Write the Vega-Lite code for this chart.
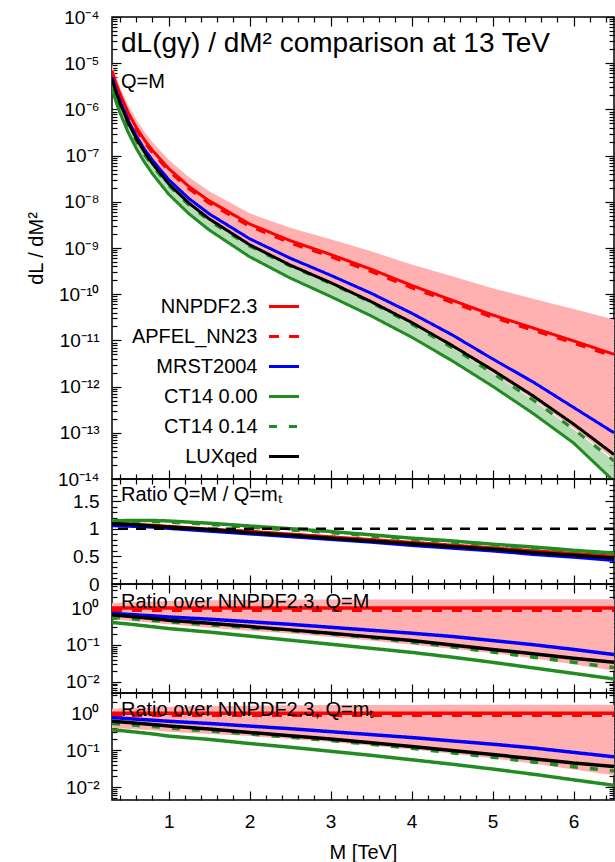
{
"$schema": "https://vega.github.io/schema/vega-lite/v6.json",
"background": "white",
"padding": {"left": 25, "top": 7, "right": 2, "bottom": 0},
"spacing": 0,
"bounds": "flush",
"config": {
  "view": {"stroke": "black", "strokeWidth": 1.5},
  "font": "Liberation Sans",
  "axis": {"domain": false, "grid": false, "tickColor": "black", "tickWidth": 1.2, "labelFont": "Liberation Sans", "labelFontSize": 19, "labelColor": "black", "labelOverlap": false, "labelFlush": false, "titleFont": "Liberation Sans", "titleFontWeight": "normal", "titleColor": "black", "titleFontSize": 20},
  "title": {"font": "Liberation Sans", "fontWeight": "normal", "color": "black", "anchor": "start", "frame": "group", "subtitleFont": "Liberation Sans", "subtitleColor": "black"}
},
"resolve": {"scale": {"color": "independent", "strokeDash": "independent"}},
"datasets": {
"main": [
{"M":0.3,"s":"NNPDF2.3","v":6.92e-6},{"M":0.35,"s":"NNPDF2.3","v":3.63e-6},{"M":0.4,"s":"NNPDF2.3","v":2.14e-6},{"M":0.5,"s":"NNPDF2.3","v":8.51e-7},{"M":0.6,"s":"NNPDF2.3","v":4.07e-7},{"M":0.7,"s":"NNPDF2.3","v":2.19e-7},{"M":0.8,"s":"NNPDF2.3","v":1.29e-7},{"M":1.0,"s":"NNPDF2.3","v":5.25e-8},{"M":1.25,"s":"NNPDF2.3","v":2.14e-8},{"M":1.5,"s":"NNPDF2.3","v":1.05e-8},{"M":2.0,"s":"NNPDF2.3","v":3.31e-9},{"M":2.5,"s":"NNPDF2.3","v":1.445e-9},{"M":3.0,"s":"NNPDF2.3","v":7.24e-10},{"M":3.5,"s":"NNPDF2.3","v":3.47e-10},{"M":4.0,"s":"NNPDF2.3","v":1.55e-10},{"M":4.5,"s":"NNPDF2.3","v":7.41e-11},{"M":5.0,"s":"NNPDF2.3","v":3.55e-11},{"M":5.5,"s":"NNPDF2.3","v":1.86e-11},{"M":6.0,"s":"NNPDF2.3","v":9.77e-12},{"M":6.5,"s":"NNPDF2.3","v":5.01e-12},
{"M":0.3,"s":"APFEL_NN23","v":6.17e-6},{"M":0.35,"s":"APFEL_NN23","v":3.24e-6},{"M":0.4,"s":"APFEL_NN23","v":1.905e-6},{"M":0.5,"s":"APFEL_NN23","v":7.59e-7},{"M":0.6,"s":"APFEL_NN23","v":3.63e-7},{"M":0.7,"s":"APFEL_NN23","v":1.95e-7},{"M":0.8,"s":"APFEL_NN23","v":1.148e-7},{"M":1.0,"s":"APFEL_NN23","v":4.68e-8},{"M":1.25,"s":"APFEL_NN23","v":1.905e-8},{"M":1.5,"s":"APFEL_NN23","v":9.33e-9},{"M":2.0,"s":"APFEL_NN23","v":2.95e-9},{"M":2.5,"s":"APFEL_NN23","v":1.29e-9},{"M":3.0,"s":"APFEL_NN23","v":6.46e-10},{"M":3.5,"s":"APFEL_NN23","v":3.09e-10},{"M":4.0,"s":"APFEL_NN23","v":1.38e-10},{"M":4.5,"s":"APFEL_NN23","v":6.61e-11},{"M":5.0,"s":"APFEL_NN23","v":3.16e-11},{"M":5.5,"s":"APFEL_NN23","v":1.66e-11},{"M":6.0,"s":"APFEL_NN23","v":8.71e-12},{"M":6.5,"s":"APFEL_NN23","v":4.47e-12},
{"M":0.3,"s":"MRST2004","v":5.01e-6},{"M":0.35,"s":"MRST2004","v":2.57e-6},{"M":0.4,"s":"MRST2004","v":1.50e-6},{"M":0.5,"s":"MRST2004","v":5.75e-7},{"M":0.6,"s":"MRST2004","v":2.66e-7},{"M":0.7,"s":"MRST2004","v":1.38e-7},{"M":0.8,"s":"MRST2004","v":7.94e-8},{"M":1.0,"s":"MRST2004","v":3.02e-8},{"M":1.25,"s":"MRST2004","v":1.175e-8},{"M":1.5,"s":"MRST2004","v":5.50e-9},{"M":2.0,"s":"MRST2004","v":1.585e-9},{"M":2.5,"s":"MRST2004","v":6.03e-10},{"M":3.0,"s":"MRST2004","v":2.57e-10},{"M":3.5,"s":"MRST2004","v":1.05e-10},{"M":4.0,"s":"MRST2004","v":3.89e-11},{"M":4.5,"s":"MRST2004","v":1.32e-11},{"M":5.0,"s":"MRST2004","v":3.98e-12},{"M":5.5,"s":"MRST2004","v":1.26e-12},{"M":6.0,"s":"MRST2004","v":3.55e-13},{"M":6.5,"s":"MRST2004","v":1.0e-13},
{"M":0.3,"s":"CT14 0.00","v":2.82e-6},{"M":0.35,"s":"CT14 0.00","v":1.445e-6},{"M":0.4,"s":"CT14 0.00","v":8.32e-7},{"M":0.5,"s":"CT14 0.00","v":3.16e-7},{"M":0.6,"s":"CT14 0.00","v":1.43e-7},{"M":0.7,"s":"CT14 0.00","v":7.24e-8},{"M":0.8,"s":"CT14 0.00","v":4.03e-8},{"M":1.0,"s":"CT14 0.00","v":1.46e-8},{"M":1.25,"s":"CT14 0.00","v":5.50e-9},{"M":1.5,"s":"CT14 0.00","v":2.455e-9},{"M":2.0,"s":"CT14 0.00","v":6.46e-10},{"M":2.5,"s":"CT14 0.00","v":2.24e-10},{"M":3.0,"s":"CT14 0.00","v":8.91e-11},{"M":3.5,"s":"CT14 0.00","v":3.39e-11},{"M":4.0,"s":"CT14 0.00","v":1.175e-11},{"M":4.5,"s":"CT14 0.00","v":3.63e-12},{"M":5.0,"s":"CT14 0.00","v":1.02e-12},{"M":5.5,"s":"CT14 0.00","v":2.63e-13},{"M":6.0,"s":"CT14 0.00","v":6.03e-14},{"M":6.5,"s":"CT14 0.00","v":8.91e-15},
{"M":0.3,"s":"CT14 0.14","v":3.98e-6},{"M":0.35,"s":"CT14 0.14","v":2.04e-6},{"M":0.4,"s":"CT14 0.14","v":1.175e-6},{"M":0.5,"s":"CT14 0.14","v":4.47e-7},{"M":0.6,"s":"CT14 0.14","v":2.04e-7},{"M":0.7,"s":"CT14 0.14","v":1.05e-7},{"M":0.8,"s":"CT14 0.14","v":5.96e-8},{"M":1.0,"s":"CT14 0.14","v":2.24e-8},{"M":1.25,"s":"CT14 0.14","v":8.51e-9},{"M":1.5,"s":"CT14 0.14","v":3.89e-9},{"M":2.0,"s":"CT14 0.14","v":1.096e-9},{"M":2.5,"s":"CT14 0.14","v":4.07e-10},{"M":3.0,"s":"CT14 0.14","v":1.70e-10},{"M":3.5,"s":"CT14 0.14","v":6.61e-11},{"M":4.0,"s":"CT14 0.14","v":2.24e-11},{"M":4.5,"s":"CT14 0.14","v":6.92e-12},{"M":5.0,"s":"CT14 0.14","v":1.95e-12},{"M":5.5,"s":"CT14 0.14","v":5.13e-13},{"M":6.0,"s":"CT14 0.14","v":1.20e-13},{"M":6.5,"s":"CT14 0.14","v":2.45e-14},
{"M":0.3,"s":"LUXqed","v":4.57e-6},{"M":0.35,"s":"LUXqed","v":2.34e-6},{"M":0.4,"s":"LUXqed","v":1.35e-6},{"M":0.5,"s":"LUXqed","v":5.13e-7},{"M":0.6,"s":"LUXqed","v":2.34e-7},{"M":0.7,"s":"LUXqed","v":1.20e-7},{"M":0.8,"s":"LUXqed","v":6.68e-8},{"M":1.0,"s":"LUXqed","v":2.45e-8},{"M":1.25,"s":"LUXqed","v":9.33e-9},{"M":1.5,"s":"LUXqed","v":4.27e-9},{"M":2.0,"s":"LUXqed","v":1.175e-9},{"M":2.5,"s":"LUXqed","v":4.27e-10},{"M":3.0,"s":"LUXqed","v":1.78e-10},{"M":3.5,"s":"LUXqed","v":6.92e-11},{"M":4.0,"s":"LUXqed","v":2.455e-11},{"M":4.5,"s":"LUXqed","v":7.76e-12},{"M":5.0,"s":"LUXqed","v":2.29e-12},{"M":5.5,"s":"LUXqed","v":6.31e-13},{"M":6.0,"s":"LUXqed","v":1.55e-13},{"M":6.5,"s":"LUXqed","v":3.39e-14}
],
"mainband": [
{"M":0.3,"lo":3.98e-6,"hi":9.55e-6,"glo":2.82e-6,"ghi":3.98e-6},
{"M":0.35,"lo":2.04e-6,"hi":5.07e-6,"glo":1.445e-6,"ghi":2.04e-6},
{"M":0.4,"lo":1.175e-6,"hi":3.02e-6,"glo":8.32e-7,"ghi":1.175e-6},
{"M":0.5,"lo":4.47e-7,"hi":1.23e-6,"glo":3.16e-7,"ghi":4.47e-7},
{"M":0.6,"lo":2.04e-7,"hi":6.03e-7,"glo":1.43e-7,"ghi":2.04e-7},
{"M":0.7,"lo":1.05e-7,"hi":3.27e-7,"glo":7.24e-8,"ghi":1.05e-7},
{"M":0.8,"lo":5.89e-8,"hi":1.95e-7,"glo":4.03e-8,"ghi":5.96e-8},
{"M":1.0,"lo":2.19e-8,"hi":8.13e-8,"glo":1.46e-8,"ghi":2.24e-8},
{"M":1.25,"lo":8.32e-9,"hi":3.39e-8,"glo":5.50e-9,"ghi":8.51e-9},
{"M":1.5,"lo":3.80e-9,"hi":1.70e-8,"glo":2.455e-9,"ghi":3.89e-9},
{"M":2.0,"lo":1.06e-9,"hi":5.62e-9,"glo":6.46e-10,"ghi":1.096e-9},
{"M":2.5,"lo":3.89e-10,"hi":2.75e-9,"glo":2.24e-10,"ghi":4.07e-10},
{"M":3.0,"lo":1.62e-10,"hi":1.55e-9,"glo":8.91e-11,"ghi":1.70e-10},
{"M":3.5,"lo":6.31e-11,"hi":8.51e-10,"glo":3.39e-11,"ghi":6.61e-11},
{"M":4.0,"lo":2.19e-11,"hi":4.37e-10,"glo":1.175e-11,"ghi":2.24e-11},
{"M":4.5,"lo":6.84e-12,"hi":2.455e-10,"glo":3.63e-12,"ghi":6.92e-12},
{"M":5.0,"lo":1.97e-12,"hi":1.35e-10,"glo":1.02e-12,"ghi":1.95e-12},
{"M":5.5,"lo":5.31e-13,"hi":7.94e-11,"glo":2.63e-13,"ghi":5.13e-13},
{"M":6.0,"lo":1.27e-13,"hi":4.79e-11,"glo":6.03e-14,"ghi":1.20e-13},
{"M":6.5,"lo":2.69e-14,"hi":2.82e-11,"glo":8.91e-15,"ghi":2.45e-14}
],
"p2": [
{"M":0.3,"s":"NNPDF2.3","v":1.09},{"M":0.5,"s":"NNPDF2.3","v":1.08},{"M":0.8,"s":"NNPDF2.3","v":1.06},{"M":1,"s":"NNPDF2.3","v":1.04},{"M":1.5,"s":"NNPDF2.3","v":0.99},{"M":2,"s":"NNPDF2.3","v":0.95},{"M":2.5,"s":"NNPDF2.3","v":0.90},{"M":3,"s":"NNPDF2.3","v":0.85},{"M":3.5,"s":"NNPDF2.3","v":0.80},{"M":4,"s":"NNPDF2.3","v":0.75},{"M":4.5,"s":"NNPDF2.3","v":0.70},{"M":5,"s":"NNPDF2.3","v":0.65},{"M":5.5,"s":"NNPDF2.3","v":0.60},{"M":6,"s":"NNPDF2.3","v":0.55},{"M":6.5,"s":"NNPDF2.3","v":0.50},
{"M":0.3,"s":"APFEL_NN23","v":1.08},{"M":0.5,"s":"APFEL_NN23","v":1.07},{"M":0.8,"s":"APFEL_NN23","v":1.05},{"M":1,"s":"APFEL_NN23","v":1.03},{"M":1.5,"s":"APFEL_NN23","v":0.985},{"M":2,"s":"APFEL_NN23","v":0.94},{"M":2.5,"s":"APFEL_NN23","v":0.895},{"M":3,"s":"APFEL_NN23","v":0.845},{"M":3.5,"s":"APFEL_NN23","v":0.795},{"M":4,"s":"APFEL_NN23","v":0.745},{"M":4.5,"s":"APFEL_NN23","v":0.695},{"M":5,"s":"APFEL_NN23","v":0.645},{"M":5.5,"s":"APFEL_NN23","v":0.595},{"M":6,"s":"APFEL_NN23","v":0.545},{"M":6.5,"s":"APFEL_NN23","v":0.495},
{"M":0.3,"s":"MRST2004","v":1.06},{"M":0.5,"s":"MRST2004","v":1.05},{"M":0.8,"s":"MRST2004","v":1.03},{"M":1,"s":"MRST2004","v":1.01},{"M":1.5,"s":"MRST2004","v":0.96},{"M":2,"s":"MRST2004","v":0.91},{"M":2.5,"s":"MRST2004","v":0.86},{"M":3,"s":"MRST2004","v":0.81},{"M":3.5,"s":"MRST2004","v":0.76},{"M":4,"s":"MRST2004","v":0.70},{"M":4.5,"s":"MRST2004","v":0.65},{"M":5,"s":"MRST2004","v":0.60},{"M":5.5,"s":"MRST2004","v":0.54},{"M":6,"s":"MRST2004","v":0.49},{"M":6.5,"s":"MRST2004","v":0.43},
{"M":0.3,"s":"CT14 0.00","v":1.14},{"M":0.5,"s":"CT14 0.00","v":1.15},{"M":0.8,"s":"CT14 0.00","v":1.15},{"M":1,"s":"CT14 0.00","v":1.14},{"M":1.5,"s":"CT14 0.00","v":1.10},{"M":2,"s":"CT14 0.00","v":1.05},{"M":2.5,"s":"CT14 0.00","v":1.00},{"M":3,"s":"CT14 0.00","v":0.95},{"M":3.5,"s":"CT14 0.00","v":0.89},{"M":4,"s":"CT14 0.00","v":0.83},{"M":4.5,"s":"CT14 0.00","v":0.78},{"M":5,"s":"CT14 0.00","v":0.72},{"M":5.5,"s":"CT14 0.00","v":0.67},{"M":6,"s":"CT14 0.00","v":0.61},{"M":6.5,"s":"CT14 0.00","v":0.56},
{"M":0.3,"s":"CT14 0.14","v":1.12},{"M":0.5,"s":"CT14 0.14","v":1.13},{"M":0.8,"s":"CT14 0.14","v":1.13},{"M":1,"s":"CT14 0.14","v":1.12},{"M":1.5,"s":"CT14 0.14","v":1.08},{"M":2,"s":"CT14 0.14","v":1.03},{"M":2.5,"s":"CT14 0.14","v":0.98},{"M":3,"s":"CT14 0.14","v":0.93},{"M":3.5,"s":"CT14 0.14","v":0.87},{"M":4,"s":"CT14 0.14","v":0.81},{"M":4.5,"s":"CT14 0.14","v":0.76},{"M":5,"s":"CT14 0.14","v":0.71},{"M":5.5,"s":"CT14 0.14","v":0.65},{"M":6,"s":"CT14 0.14","v":0.60},{"M":6.5,"s":"CT14 0.14","v":0.55},
{"M":0.3,"s":"LUXqed","v":1.09},{"M":0.5,"s":"LUXqed","v":1.08},{"M":0.8,"s":"LUXqed","v":1.05},{"M":1,"s":"LUXqed","v":1.03},{"M":1.5,"s":"LUXqed","v":0.98},{"M":2,"s":"LUXqed","v":0.93},{"M":2.5,"s":"LUXqed","v":0.88},{"M":3,"s":"LUXqed","v":0.83},{"M":3.5,"s":"LUXqed","v":0.78},{"M":4,"s":"LUXqed","v":0.73},{"M":4.5,"s":"LUXqed","v":0.68},{"M":5,"s":"LUXqed","v":0.63},{"M":5.5,"s":"LUXqed","v":0.57},{"M":6,"s":"LUXqed","v":0.52},{"M":6.5,"s":"LUXqed","v":0.47}
],
"p3": [
{"M":0.3,"s":"NNPDF2.3","v":1},{"M":6.5,"s":"NNPDF2.3","v":1},
{"M":0.3,"s":"APFEL_NN23","v":0.88},{"M":6.5,"s":"APFEL_NN23","v":0.88},
{"M":0.3,"s":"MRST2004","v":0.724},{"M":0.5,"s":"MRST2004","v":0.676},{"M":0.8,"s":"MRST2004","v":0.617},{"M":1,"s":"MRST2004","v":0.575},{"M":1.5,"s":"MRST2004","v":0.501},{"M":2,"s":"MRST2004","v":0.427},{"M":2.5,"s":"MRST2004","v":0.363},{"M":3,"s":"MRST2004","v":0.302},{"M":3.5,"s":"MRST2004","v":0.251},{"M":4,"s":"MRST2004","v":0.209},{"M":4.5,"s":"MRST2004","v":0.170},{"M":5,"s":"MRST2004","v":0.132},{"M":5.5,"s":"MRST2004","v":0.102},{"M":6,"s":"MRST2004","v":0.0759},{"M":6.5,"s":"MRST2004","v":0.055},
{"M":0.3,"s":"CT14 0.00","v":0.407},{"M":0.5,"s":"CT14 0.00","v":0.372},{"M":0.8,"s":"CT14 0.00","v":0.313},{"M":1,"s":"CT14 0.00","v":0.279},{"M":1.5,"s":"CT14 0.00","v":0.224},{"M":2,"s":"CT14 0.00","v":0.174},{"M":2.5,"s":"CT14 0.00","v":0.135},{"M":3,"s":"CT14 0.00","v":0.105},{"M":3.5,"s":"CT14 0.00","v":0.0813},{"M":4,"s":"CT14 0.00","v":0.0631},{"M":4.5,"s":"CT14 0.00","v":0.0468},{"M":5,"s":"CT14 0.00","v":0.0339},{"M":5.5,"s":"CT14 0.00","v":0.024},{"M":6,"s":"CT14 0.00","v":0.017},{"M":6.5,"s":"CT14 0.00","v":0.012},
{"M":0.3,"s":"CT14 0.14","v":0.575},{"M":0.5,"s":"CT14 0.14","v":0.525},{"M":0.8,"s":"CT14 0.14","v":0.462},{"M":1,"s":"CT14 0.14","v":0.427},{"M":1.5,"s":"CT14 0.14","v":0.355},{"M":2,"s":"CT14 0.14","v":0.295},{"M":2.5,"s":"CT14 0.14","v":0.245},{"M":3,"s":"CT14 0.14","v":0.2},{"M":3.5,"s":"CT14 0.14","v":0.158},{"M":4,"s":"CT14 0.14","v":0.120},{"M":4.5,"s":"CT14 0.14","v":0.0891},{"M":5,"s":"CT14 0.14","v":0.0646},{"M":5.5,"s":"CT14 0.14","v":0.0468},{"M":6,"s":"CT14 0.14","v":0.0339},{"M":6.5,"s":"CT14 0.14","v":0.0245},
{"M":0.3,"s":"LUXqed","v":0.661},{"M":0.5,"s":"LUXqed","v":0.603},{"M":0.8,"s":"LUXqed","v":0.519},{"M":1,"s":"LUXqed","v":0.468},{"M":1.5,"s":"LUXqed","v":0.389},{"M":2,"s":"LUXqed","v":0.316},{"M":2.5,"s":"LUXqed","v":0.257},{"M":3,"s":"LUXqed","v":0.209},{"M":3.5,"s":"LUXqed","v":0.166},{"M":4,"s":"LUXqed","v":0.132},{"M":4.5,"s":"LUXqed","v":0.1},{"M":5,"s":"LUXqed","v":0.0759},{"M":5.5,"s":"LUXqed","v":0.0575},{"M":6,"s":"LUXqed","v":0.0437},{"M":6.5,"s":"LUXqed","v":0.0339}
],
"p3b": [
{"M":0.3,"lo":0.501,"hi":1.38},{"M":0.5,"lo":0.457,"hi":1.445},{"M":0.8,"lo":0.398,"hi":1.514},{"M":1,"lo":0.363,"hi":1.549},{"M":1.5,"lo":0.295,"hi":1.622},{"M":2,"lo":0.245,"hi":1.66},{"M":2.5,"lo":0.204,"hi":1.698},{"M":3,"lo":0.166,"hi":1.698},{"M":3.5,"lo":0.132,"hi":1.698},{"M":4,"lo":0.102,"hi":1.718},{"M":4.5,"lo":0.0794,"hi":1.718},{"M":5,"lo":0.0603,"hi":1.738},{"M":5.5,"lo":0.0437,"hi":1.738},{"M":6,"lo":0.0302,"hi":1.738},{"M":6.5,"lo":0.02,"hi":1.738}
],
"p4": [
{"M":0.3,"s":"NNPDF2.3","v":1},{"M":6.5,"s":"NNPDF2.3","v":1},
{"M":0.3,"s":"APFEL_NN23","v":0.88},{"M":6.5,"s":"APFEL_NN23","v":0.88},
{"M":0.3,"s":"MRST2004","v":0.759},{"M":0.5,"s":"MRST2004","v":0.708},{"M":0.8,"s":"MRST2004","v":0.646},{"M":1,"s":"MRST2004","v":0.603},{"M":1.5,"s":"MRST2004","v":0.525},{"M":2,"s":"MRST2004","v":0.447},{"M":2.5,"s":"MRST2004","v":0.380},{"M":3,"s":"MRST2004","v":0.316},{"M":3.5,"s":"MRST2004","v":0.263},{"M":4,"s":"MRST2004","v":0.219},{"M":4.5,"s":"MRST2004","v":0.178},{"M":5,"s":"MRST2004","v":0.145},{"M":5.5,"s":"MRST2004","v":0.115},{"M":6,"s":"MRST2004","v":0.0871},{"M":6.5,"s":"MRST2004","v":0.0661},
{"M":0.3,"s":"CT14 0.00","v":0.355},{"M":0.5,"s":"CT14 0.00","v":0.324},{"M":0.8,"s":"CT14 0.00","v":0.275},{"M":1,"s":"CT14 0.00","v":0.24},{"M":1.5,"s":"CT14 0.00","v":0.195},{"M":2,"s":"CT14 0.00","v":0.151},{"M":2.5,"s":"CT14 0.00","v":0.120},{"M":3,"s":"CT14 0.00","v":0.0933},{"M":3.5,"s":"CT14 0.00","v":0.0724},{"M":4,"s":"CT14 0.00","v":0.055},{"M":4.5,"s":"CT14 0.00","v":0.0417},{"M":5,"s":"CT14 0.00","v":0.0309},{"M":5.5,"s":"CT14 0.00","v":0.0224},{"M":6,"s":"CT14 0.00","v":0.0158},{"M":6.5,"s":"CT14 0.00","v":0.0112},
{"M":0.3,"s":"CT14 0.14","v":0.525},{"M":0.5,"s":"CT14 0.14","v":0.49},{"M":0.8,"s":"CT14 0.14","v":0.437},{"M":1,"s":"CT14 0.14","v":0.398},{"M":1.5,"s":"CT14 0.14","v":0.331},{"M":2,"s":"CT14 0.14","v":0.275},{"M":2.5,"s":"CT14 0.14","v":0.224},{"M":3,"s":"CT14 0.14","v":0.182},{"M":3.5,"s":"CT14 0.14","v":0.145},{"M":4,"s":"CT14 0.14","v":0.112},{"M":4.5,"s":"CT14 0.14","v":0.0851},{"M":5,"s":"CT14 0.14","v":0.0646},{"M":5.5,"s":"CT14 0.14","v":0.0479},{"M":6,"s":"CT14 0.14","v":0.0355},{"M":6.5,"s":"CT14 0.14","v":0.0275},
{"M":0.3,"s":"LUXqed","v":0.603},{"M":0.5,"s":"LUXqed","v":0.562},{"M":0.8,"s":"LUXqed","v":0.49},{"M":1,"s":"LUXqed","v":0.447},{"M":1.5,"s":"LUXqed","v":0.372},{"M":2,"s":"LUXqed","v":0.302},{"M":2.5,"s":"LUXqed","v":0.245},{"M":3,"s":"LUXqed","v":0.2},{"M":3.5,"s":"LUXqed","v":0.158},{"M":4,"s":"LUXqed","v":0.126},{"M":4.5,"s":"LUXqed","v":0.0977},{"M":5,"s":"LUXqed","v":0.0759},{"M":5.5,"s":"LUXqed","v":0.0589},{"M":6,"s":"LUXqed","v":0.0447},{"M":6.5,"s":"LUXqed","v":0.0363}
],
"p4b": [
{"M":0.3,"lo":0.398,"hi":1.318},{"M":0.5,"lo":0.38,"hi":1.38},{"M":0.8,"lo":0.347,"hi":1.445},{"M":1,"lo":0.316,"hi":1.479},{"M":1.5,"lo":0.275,"hi":1.549},{"M":2,"lo":0.24,"hi":1.585},{"M":2.5,"lo":0.2,"hi":1.622},{"M":3,"lo":0.166,"hi":1.66},{"M":3.5,"lo":0.132,"hi":1.66},{"M":4,"lo":0.105,"hi":1.66},{"M":4.5,"lo":0.0794,"hi":1.698},{"M":5,"lo":0.0603,"hi":1.698},{"M":5.5,"lo":0.0437,"hi":1.698},{"M":6,"lo":0.0302,"hi":1.698},{"M":6.5,"lo":0.0209,"hi":1.698}
]
},
"vconcat": [
{
 "width": 502, "height": 462,
 "title": {"text": "dL(gγ) / dM² comparison at 13 TeV", "subtitle": "Q=M", "fontSize": 28, "subtitleFontSize": 20, "offset": -84, "dx": 9, "subtitlePadding": 14},
 "resolve": {"axis": {"x": "independent", "y": "independent"}},
 "layer": [
  {"data": {"name": "mainband"}, "mark": {"type": "area", "color": "#ffb0b0", "clip": true},
   "encoding": {
    "x": {"field": "M", "type": "quantitative", "scale": {"domain": [0.3, 6.5], "nice": false, "zero": false}, "axis": {"orient": "bottom", "values": [1,2,3,4,5,6], "tickSize": -9, "labels": false, "title": null}},
    "y": {"field": "lo", "type": "quantitative", "scale": {"type": "log", "domain": [1e-14, 1e-4], "nice": false}, "axis": {"orient": "left", "values": [1e-14,1e-13,1e-12,1e-11,1e-10,1e-9,1e-8,1e-7,1e-6,1e-5,1e-4], "tickSize": -9, "labelPadding": 22, "labelExpr": "'10' + (datum.value < 0.9 ? '⁻' : '') + (abs(round(log(datum.value)/LN10)) >= 10 ? '¹' : '') + substring('⁰¹²³⁴⁵⁶⁷⁸⁹', abs(round(log(datum.value)/LN10)) % 10, abs(round(log(datum.value)/LN10)) % 10 + 1)", "title": "dL / dM²", "titleX": -76, "titleY": 231, "titleAngle": -90, "titleAlign": "center", "titleBaseline": "middle"}},
    "y2": {"field": "hi"}
   }},
  {"data": {"name": "mainband"}, "mark": {"type": "area", "color": "#a8d8a8", "opacity": 0.85, "clip": true},
   "encoding": {
    "x": {"field": "M", "type": "quantitative", "scale": {"domain": [0.3, 6.5], "nice": false, "zero": false}, "axis": {"orient": "bottom", "values": [0.4,0.6,0.8,1.2,1.4,1.6,1.8,2.2,2.4,2.6,2.8,3.2,3.4,3.6,3.8,4.2,4.4,4.6,4.8,5.2,5.4,5.6,5.8,6.2,6.4], "tickSize": -5, "labels": false, "title": null}},
    "y": {"field": "glo", "type": "quantitative", "scale": {"type": "log", "domain": [1e-14, 1e-4], "nice": false}, "axis": {"orient": "left", "values": [2e-14,3e-14,4e-14,5e-14,6e-14,7e-14,8e-14,9e-14,2e-13,3e-13,4e-13,5e-13,6e-13,7e-13,8e-13,9e-13,2e-12,3e-12,4e-12,5e-12,6e-12,7e-12,8e-12,9e-12,2e-11,3e-11,4e-11,5e-11,6e-11,7e-11,8e-11,9e-11,2e-10,3e-10,4e-10,5e-10,6e-10,7e-10,8e-10,9e-10,2e-9,3e-9,4e-9,5e-9,6e-9,7e-9,8e-9,9e-9,2e-8,3e-8,4e-8,5e-8,6e-8,7e-8,8e-8,9e-8,2e-7,3e-7,4e-7,5e-7,6e-7,7e-7,8e-7,9e-7,2e-6,3e-6,4e-6,5e-6,6e-6,7e-6,8e-6,9e-6,2e-5,3e-5,4e-5,5e-5,6e-5,7e-5,8e-5,9e-5], "tickSize": -5, "labels": false, "title": null}},
    "y2": {"field": "ghi"}
   }},
  {"data": {"name": "main"}, "transform": [{"filter": "datum.s == 'NNPDF2.3' || datum.s == 'APFEL_NN23'"}], "mark": {"type": "line", "strokeWidth": 3, "clip": true},
   "encoding": {
    "x": {"field": "M", "type": "quantitative", "scale": {"domain": [0.3, 6.5], "nice": false, "zero": false}, "axis": {"orient": "top", "values": [1,2,3,4,5,6], "tickSize": -9, "labels": false, "title": null}},
    "y": {"field": "v", "type": "quantitative", "scale": {"type": "log", "domain": [1e-14, 1e-4], "nice": false}, "axis": {"orient": "right", "values": [1e-14,1e-13,1e-12,1e-11,1e-10,1e-9,1e-8,1e-7,1e-6,1e-5,1e-4], "tickSize": -9, "labels": false, "title": null}},
    "color": {"field": "s", "type": "nominal", "scale": {"domain": ["NNPDF2.3","APFEL_NN23","MRST2004","CT14 0.00","CT14 0.14","LUXqed"], "range": ["#ff0000","#ff0000","#0000ff","#228b22","#228b22","#000000"]}, "legend": {"orient": "none", "legendX": 155.5, "legendY": 273, "title": null, "labelFont": "Liberation Sans", "labelFontSize": 20, "labelColor": "black", "labelAlign": "right", "labelOffset": -43, "symbolSize": 900, "symbolStrokeWidth": 3, "rowPadding": 3, "padding": 0, "labelLimit": 400}},
    "strokeDash": {"field": "s", "type": "nominal", "scale": {"domain": ["NNPDF2.3","APFEL_NN23","MRST2004","CT14 0.00","CT14 0.14","LUXqed"], "range": [[1,0],[10,10],[1,0],[1,0],[8,12],[1,0]]}, "legend": {"orient": "none", "legendX": 155.5, "legendY": 273, "title": null, "labelFont": "Liberation Sans", "labelFontSize": 20, "labelColor": "black", "labelAlign": "right", "labelOffset": -43, "symbolSize": 900, "symbolStrokeWidth": 3, "rowPadding": 3, "padding": 0, "labelLimit": 400}}
   }},
  {"data": {"name": "main"}, "transform": [{"filter": "datum.s != 'NNPDF2.3' && datum.s != 'APFEL_NN23'"}], "mark": {"type": "line", "strokeWidth": 3, "clip": true},
   "encoding": {
    "x": {"field": "M", "type": "quantitative", "scale": {"domain": [0.3, 6.5], "nice": false, "zero": false}, "axis": {"orient": "top", "values": [0.4,0.6,0.8,1.2,1.4,1.6,1.8,2.2,2.4,2.6,2.8,3.2,3.4,3.6,3.8,4.2,4.4,4.6,4.8,5.2,5.4,5.6,5.8,6.2,6.4], "tickSize": -5, "labels": false, "title": null}},
    "y": {"field": "v", "type": "quantitative", "scale": {"type": "log", "domain": [1e-14, 1e-4], "nice": false}, "axis": {"orient": "right", "values": [2e-14,3e-14,4e-14,5e-14,6e-14,7e-14,8e-14,9e-14,2e-13,3e-13,4e-13,5e-13,6e-13,7e-13,8e-13,9e-13,2e-12,3e-12,4e-12,5e-12,6e-12,7e-12,8e-12,9e-12,2e-11,3e-11,4e-11,5e-11,6e-11,7e-11,8e-11,9e-11,2e-10,3e-10,4e-10,5e-10,6e-10,7e-10,8e-10,9e-10,2e-9,3e-9,4e-9,5e-9,6e-9,7e-9,8e-9,9e-9,2e-8,3e-8,4e-8,5e-8,6e-8,7e-8,8e-8,9e-8,2e-7,3e-7,4e-7,5e-7,6e-7,7e-7,8e-7,9e-7,2e-6,3e-6,4e-6,5e-6,6e-6,7e-6,8e-6,9e-6,2e-5,3e-5,4e-5,5e-5,6e-5,7e-5,8e-5,9e-5], "tickSize": -5, "labels": false, "title": null}},
    "color": {"field": "s", "type": "nominal", "scale": {"domain": ["NNPDF2.3","APFEL_NN23","MRST2004","CT14 0.00","CT14 0.14","LUXqed"], "range": ["#ff0000","#ff0000","#0000ff","#228b22","#228b22","#000000"]}, "legend": {"orient": "none", "legendX": 155.5, "legendY": 273, "title": null, "labelFont": "Liberation Sans", "labelFontSize": 20, "labelColor": "black", "labelAlign": "right", "labelOffset": -43, "symbolSize": 900, "symbolStrokeWidth": 3, "rowPadding": 3, "padding": 0, "labelLimit": 400}},
    "strokeDash": {"field": "s", "type": "nominal", "scale": {"domain": ["NNPDF2.3","APFEL_NN23","MRST2004","CT14 0.00","CT14 0.14","LUXqed"], "range": [[1,0],[10,10],[1,0],[1,0],[8,12],[1,0]]}, "legend": {"orient": "none", "legendX": 155.5, "legendY": 273, "title": null, "labelFont": "Liberation Sans", "labelFontSize": 20, "labelColor": "black", "labelAlign": "right", "labelOffset": -43, "symbolSize": 900, "symbolStrokeWidth": 3, "rowPadding": 3, "padding": 0, "labelLimit": 400}}
   }}
 ]
},
{
 "width": 502, "height": 105,
 "title": {"text": "Ratio Q=M / Q=mₜ", "fontSize": 20, "offset": -27, "dx": 9},
 "resolve": {"axis": {"x": "independent", "y": "independent"}},
 "layer": [
  {"data": {"name": "p2"}, "transform": [{"filter": "datum.s == 'NNPDF2.3' || datum.s == 'APFEL_NN23'"}], "mark": {"type": "line", "strokeWidth": 3.5, "clip": true},
   "encoding": {
    "x": {"field": "M", "type": "quantitative", "scale": {"domain": [0.3, 6.5], "nice": false, "zero": false}, "axis": {"orient": "bottom", "values": [1,2,3,4,5,6], "tickSize": -9, "labels": false, "title": null}},
    "y": {"field": "v", "type": "quantitative", "scale": {"domain": [0, 1.9], "nice": false, "zero": false}, "axis": {"orient": "left", "values": [0, 0.5, 1, 1.5], "format": "~g", "tickSize": -9, "labelPadding": 22, "title": null}},
    "color": {"field": "s", "type": "nominal", "scale": {"domain": ["NNPDF2.3","APFEL_NN23","MRST2004","CT14 0.00","CT14 0.14","LUXqed"], "range": ["#ff0000","#ff0000","#0000ff","#228b22","#228b22","#000000"]}, "legend": null},
    "strokeDash": {"field": "s", "type": "nominal", "scale": {"domain": ["NNPDF2.3","APFEL_NN23","MRST2004","CT14 0.00","CT14 0.14","LUXqed"], "range": [[1,0],[10,10],[1,0],[1,0],[8,12],[1,0]]}, "legend": null}
   }},
  {"data": {"name": "p2"}, "transform": [{"filter": "datum.s == 'MRST2004'"}], "mark": {"type": "line", "strokeWidth": 3.5, "clip": true, "color": "#0000ff"},
   "encoding": {
    "x": {"field": "M", "type": "quantitative", "scale": {"domain": [0.3, 6.5], "nice": false, "zero": false}, "axis": {"orient": "bottom", "values": [0.4,0.6,0.8,1.2,1.4,1.6,1.8,2.2,2.4,2.6,2.8,3.2,3.4,3.6,3.8,4.2,4.4,4.6,4.8,5.2,5.4,5.6,5.8,6.2,6.4], "tickSize": -5, "labels": false, "title": null}},
    "y": {"field": "v", "type": "quantitative", "scale": {"domain": [0, 1.9], "nice": false, "zero": false}, "axis": {"orient": "left", "values": [0.1,0.2,0.3,0.4,0.6,0.7,0.8,0.9,1.1,1.2,1.3,1.4,1.6,1.7,1.8], "tickSize": -5, "labels": false, "title": null}}
   }},
  {"data": {"name": "p2"}, "transform": [{"filter": "datum.s == 'CT14 0.00' || datum.s == 'CT14 0.14'"}], "mark": {"type": "line", "strokeWidth": 3.5, "clip": true},
   "encoding": {
    "x": {"field": "M", "type": "quantitative", "scale": {"domain": [0.3, 6.5], "nice": false, "zero": false}, "axis": {"orient": "top", "values": [1,2,3,4,5,6], "tickSize": -9, "labels": false, "title": null}},
    "y": {"field": "v", "type": "quantitative", "scale": {"domain": [0, 1.9], "nice": false, "zero": false}, "axis": {"orient": "right", "values": [0, 0.5, 1, 1.5], "tickSize": -9, "labels": false, "title": null}},
    "color": {"field": "s", "type": "nominal", "scale": {"domain": ["NNPDF2.3","APFEL_NN23","MRST2004","CT14 0.00","CT14 0.14","LUXqed"], "range": ["#ff0000","#ff0000","#0000ff","#228b22","#228b22","#000000"]}, "legend": null},
    "strokeDash": {"field": "s", "type": "nominal", "scale": {"domain": ["NNPDF2.3","APFEL_NN23","MRST2004","CT14 0.00","CT14 0.14","LUXqed"], "range": [[1,0],[10,10],[1,0],[1,0],[8,12],[1,0]]}, "legend": null}
   }},
  {"data": {"name": "p2"}, "transform": [{"filter": "datum.s == 'LUXqed'"}], "mark": {"type": "line", "strokeWidth": 3.5, "clip": true, "color": "#000000"},
   "encoding": {
    "x": {"field": "M", "type": "quantitative", "scale": {"domain": [0.3, 6.5], "nice": false, "zero": false}, "axis": {"orient": "top", "values": [0.4,0.6,0.8,1.2,1.4,1.6,1.8,2.2,2.4,2.6,2.8,3.2,3.4,3.6,3.8,4.2,4.4,4.6,4.8,5.2,5.4,5.6,5.8,6.2,6.4], "tickSize": -5, "labels": false, "title": null}},
    "y": {"field": "v", "type": "quantitative", "scale": {"domain": [0, 1.9], "nice": false, "zero": false}, "axis": {"orient": "right", "values": [0.1,0.2,0.3,0.4,0.6,0.7,0.8,0.9,1.1,1.2,1.3,1.4,1.6,1.7,1.8], "tickSize": -5, "labels": false, "title": null}}
   }},
  {"data": {"values": [{}]}, "mark": {"type": "rule", "color": "black", "strokeWidth": 2.5, "strokeDash": [10, 8]},
   "encoding": {"y": {"datum": 1, "type": "quantitative", "scale": {"domain": [0, 1.9], "nice": false, "zero": false}, "axis": null}}}
 ]
},
{
 "width": 502, "height": 109,
 "title": {"text": "Ratio over NNPDF2.3, Q=M", "fontSize": 20, "offset": -29, "dx": 9},
 "resolve": {"axis": {"x": "independent", "y": "independent"}},
 "layer": [
  {"data": {"name": "p3b"}, "mark": {"type": "area", "color": "#ffb0b0", "clip": true},
   "encoding": {
    "x": {"field": "M", "type": "quantitative", "scale": {"domain": [0.3, 6.5], "nice": false, "zero": false}, "axis": {"orient": "bottom", "values": [1,2,3,4,5,6], "tickSize": -9, "labels": false, "title": null}},
    "y": {"field": "lo", "type": "quantitative", "scale": {"type": "log", "domain": [0.005, 4.5], "nice": false}, "axis": {"orient": "left", "values": [0.01, 0.1, 1], "tickSize": -9, "labelPadding": 22, "labelExpr": "'10' + (datum.value < 0.9 ? '⁻' : '') + (abs(round(log(datum.value)/LN10)) >= 10 ? '¹' : '') + substring('⁰¹²³⁴⁵⁶⁷⁸⁹', abs(round(log(datum.value)/LN10)) % 10, abs(round(log(datum.value)/LN10)) % 10 + 1)", "title": null}},
    "y2": {"field": "hi"}
   }},
  {"data": {"name": "p3"}, "transform": [{"filter": "datum.s == 'NNPDF2.3' || datum.s == 'APFEL_NN23'"}], "mark": {"type": "line", "strokeWidth": 3.5, "clip": true},
   "encoding": {
    "x": {"field": "M", "type": "quantitative", "scale": {"domain": [0.3, 6.5], "nice": false, "zero": false}, "axis": {"orient": "bottom", "values": [0.4,0.6,0.8,1.2,1.4,1.6,1.8,2.2,2.4,2.6,2.8,3.2,3.4,3.6,3.8,4.2,4.4,4.6,4.8,5.2,5.4,5.6,5.8,6.2,6.4], "tickSize": -5, "labels": false, "title": null}},
    "y": {"field": "v", "type": "quantitative", "scale": {"type": "log", "domain": [0.005, 4.5], "nice": false}, "axis": {"orient": "left", "values": [0.005,0.006,0.007,0.008,0.009,0.02,0.03,0.04,0.05,0.06,0.07,0.08,0.09,0.2,0.3,0.4,0.5,0.6,0.7,0.8,0.9,2,3,4], "tickSize": -5, "labels": false, "title": null}},
    "color": {"field": "s", "type": "nominal", "scale": {"domain": ["NNPDF2.3","APFEL_NN23","MRST2004","CT14 0.00","CT14 0.14","LUXqed"], "range": ["#ff0000","#ff0000","#0000ff","#228b22","#228b22","#000000"]}, "legend": null},
    "strokeDash": {"field": "s", "type": "nominal", "scale": {"domain": ["NNPDF2.3","APFEL_NN23","MRST2004","CT14 0.00","CT14 0.14","LUXqed"], "range": [[1,0],[10,10],[1,0],[1,0],[8,12],[1,0]]}, "legend": null}
   }},
  {"data": {"name": "p3"}, "transform": [{"filter": "datum.s == 'MRST2004' || datum.s == 'CT14 0.00' || datum.s == 'CT14 0.14'"}], "mark": {"type": "line", "strokeWidth": 3.5, "clip": true},
   "encoding": {
    "x": {"field": "M", "type": "quantitative", "scale": {"domain": [0.3, 6.5], "nice": false, "zero": false}, "axis": {"orient": "top", "values": [1,2,3,4,5,6], "tickSize": -9, "labels": false, "title": null}},
    "y": {"field": "v", "type": "quantitative", "scale": {"type": "log", "domain": [0.005, 4.5], "nice": false}, "axis": {"orient": "right", "values": [0.01, 0.1, 1], "tickSize": -9, "labels": false, "title": null}},
    "color": {"field": "s", "type": "nominal", "scale": {"domain": ["NNPDF2.3","APFEL_NN23","MRST2004","CT14 0.00","CT14 0.14","LUXqed"], "range": ["#ff0000","#ff0000","#0000ff","#228b22","#228b22","#000000"]}, "legend": null},
    "strokeDash": {"field": "s", "type": "nominal", "scale": {"domain": ["NNPDF2.3","APFEL_NN23","MRST2004","CT14 0.00","CT14 0.14","LUXqed"], "range": [[1,0],[10,10],[1,0],[1,0],[8,12],[1,0]]}, "legend": null}
   }},
  {"data": {"name": "p3"}, "transform": [{"filter": "datum.s == 'LUXqed'"}], "mark": {"type": "line", "strokeWidth": 3.5, "clip": true, "color": "#000000"},
   "encoding": {
    "x": {"field": "M", "type": "quantitative", "scale": {"domain": [0.3, 6.5], "nice": false, "zero": false}, "axis": {"orient": "top", "values": [0.4,0.6,0.8,1.2,1.4,1.6,1.8,2.2,2.4,2.6,2.8,3.2,3.4,3.6,3.8,4.2,4.4,4.6,4.8,5.2,5.4,5.6,5.8,6.2,6.4], "tickSize": -5, "labels": false, "title": null}},
    "y": {"field": "v", "type": "quantitative", "scale": {"type": "log", "domain": [0.005, 4.5], "nice": false}, "axis": {"orient": "right", "values": [0.005,0.006,0.007,0.008,0.009,0.02,0.03,0.04,0.05,0.06,0.07,0.08,0.09,0.2,0.3,0.4,0.5,0.6,0.7,0.8,0.9,2,3,4], "tickSize": -5, "labels": false, "title": null}}
   }}
 ]
},
{
 "width": 502, "height": 107,
 "title": {"text": "Ratio over NNPDF2.3, Q=mₜ", "fontSize": 20, "offset": -28, "dx": 9},
 "resolve": {"axis": {"x": "independent", "y": "independent"}},
 "layer": [
  {"data": {"name": "p4b"}, "mark": {"type": "area", "color": "#ffb0b0", "clip": true},
   "encoding": {
    "x": {"field": "M", "type": "quantitative", "scale": {"domain": [0.3, 6.5], "nice": false, "zero": false}, "axis": {"orient": "bottom", "values": [1,2,3,4,5,6], "tickSize": -9, "labels": true, "format": "d", "labelPadding": 21, "title": "M [TeV]", "titleX": 251, "titleY": 52, "titleAlign": "center", "titleBaseline": "middle"}},
    "y": {"field": "lo", "type": "quantitative", "scale": {"type": "log", "domain": [0.0045, 3.5], "nice": false}, "axis": {"orient": "left", "values": [0.01, 0.1, 1], "tickSize": -9, "labelPadding": 22, "labelExpr": "'10' + (datum.value < 0.9 ? '⁻' : '') + (abs(round(log(datum.value)/LN10)) >= 10 ? '¹' : '') + substring('⁰¹²³⁴⁵⁶⁷⁸⁹', abs(round(log(datum.value)/LN10)) % 10, abs(round(log(datum.value)/LN10)) % 10 + 1)", "title": null}},
    "y2": {"field": "hi"}
   }},
  {"data": {"name": "p4"}, "transform": [{"filter": "datum.s == 'NNPDF2.3' || datum.s == 'APFEL_NN23'"}], "mark": {"type": "line", "strokeWidth": 3.5, "clip": true},
   "encoding": {
    "x": {"field": "M", "type": "quantitative", "scale": {"domain": [0.3, 6.5], "nice": false, "zero": false}, "axis": {"orient": "bottom", "values": [0.4,0.6,0.8,1.2,1.4,1.6,1.8,2.2,2.4,2.6,2.8,3.2,3.4,3.6,3.8,4.2,4.4,4.6,4.8,5.2,5.4,5.6,5.8,6.2,6.4], "tickSize": -5, "labels": false, "title": null}},
    "y": {"field": "v", "type": "quantitative", "scale": {"type": "log", "domain": [0.0045, 3.5], "nice": false}, "axis": {"orient": "left", "values": [0.005,0.006,0.007,0.008,0.009,0.02,0.03,0.04,0.05,0.06,0.07,0.08,0.09,0.2,0.3,0.4,0.5,0.6,0.7,0.8,0.9,2,3], "tickSize": -5, "labels": false, "title": null}},
    "color": {"field": "s", "type": "nominal", "scale": {"domain": ["NNPDF2.3","APFEL_NN23","MRST2004","CT14 0.00","CT14 0.14","LUXqed"], "range": ["#ff0000","#ff0000","#0000ff","#228b22","#228b22","#000000"]}, "legend": null},
    "strokeDash": {"field": "s", "type": "nominal", "scale": {"domain": ["NNPDF2.3","APFEL_NN23","MRST2004","CT14 0.00","CT14 0.14","LUXqed"], "range": [[1,0],[10,10],[1,0],[1,0],[8,12],[1,0]]}, "legend": null}
   }},
  {"data": {"name": "p4"}, "transform": [{"filter": "datum.s == 'MRST2004' || datum.s == 'CT14 0.00' || datum.s == 'CT14 0.14'"}], "mark": {"type": "line", "strokeWidth": 3.5, "clip": true},
   "encoding": {
    "x": {"field": "M", "type": "quantitative", "scale": {"domain": [0.3, 6.5], "nice": false, "zero": false}, "axis": {"orient": "top", "values": [1,2,3,4,5,6], "tickSize": -9, "labels": false, "title": null}},
    "y": {"field": "v", "type": "quantitative", "scale": {"type": "log", "domain": [0.0045, 3.5], "nice": false}, "axis": {"orient": "right", "values": [0.01, 0.1, 1], "tickSize": -9, "labels": false, "title": null}},
    "color": {"field": "s", "type": "nominal", "scale": {"domain": ["NNPDF2.3","APFEL_NN23","MRST2004","CT14 0.00","CT14 0.14","LUXqed"], "range": ["#ff0000","#ff0000","#0000ff","#228b22","#228b22","#000000"]}, "legend": null},
    "strokeDash": {"field": "s", "type": "nominal", "scale": {"domain": ["NNPDF2.3","APFEL_NN23","MRST2004","CT14 0.00","CT14 0.14","LUXqed"], "range": [[1,0],[10,10],[1,0],[1,0],[8,12],[1,0]]}, "legend": null}
   }},
  {"data": {"name": "p4"}, "transform": [{"filter": "datum.s == 'LUXqed'"}], "mark": {"type": "line", "strokeWidth": 3.5, "clip": true, "color": "#000000"},
   "encoding": {
    "x": {"field": "M", "type": "quantitative", "scale": {"domain": [0.3, 6.5], "nice": false, "zero": false}, "axis": {"orient": "top", "values": [0.4,0.6,0.8,1.2,1.4,1.6,1.8,2.2,2.4,2.6,2.8,3.2,3.4,3.6,3.8,4.2,4.4,4.6,4.8,5.2,5.4,5.6,5.8,6.2,6.4], "tickSize": -5, "labels": false, "title": null}},
    "y": {"field": "v", "type": "quantitative", "scale": {"type": "log", "domain": [0.0045, 3.5], "nice": false}, "axis": {"orient": "right", "values": [0.005,0.006,0.007,0.008,0.009,0.02,0.03,0.04,0.05,0.06,0.07,0.08,0.09,0.2,0.3,0.4,0.5,0.6,0.7,0.8,0.9,2,3], "tickSize": -5, "labels": false, "title": null}}
   }}
 ]
}
]
}
